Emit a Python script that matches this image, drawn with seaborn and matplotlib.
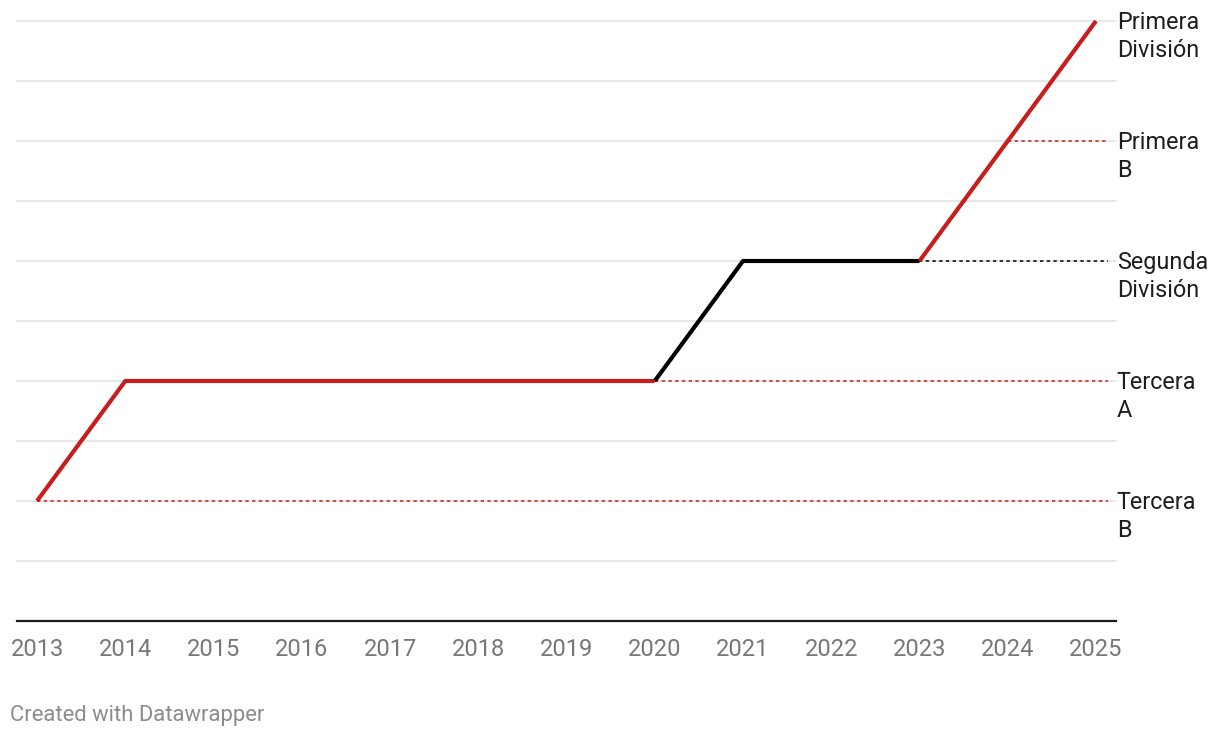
import numpy as np
import pandas as pd
import matplotlib
matplotlib.use("Agg")
import matplotlib.pyplot as plt
import seaborn as sns

# --- data -----------------------------------------------------------------
years = [2013, 2014, 2015, 2016, 2017, 2018, 2019, 2020, 2021, 2022, 2023, 2024, 2025]
levels = [1, 2, 2, 2, 2, 2, 2, 2, 3, 3, 3, 4, 5]
# colour segments: (first year, last year, colour key)
segments = [(2013, 2020, "red"), (2020, 2023, "black"), (2023, 2025, "red")]
# division labels at each level
division_names = ["Tercera\nB", "Tercera\nA", "Segunda\nDivisión", "Primera\nB", "Primera\nDivisión"]
division_levels = [1, 2, 3, 4, 5]
# dotted reference lines: (level, start year, colour key)
ref_lines = [(1, 2013, "red"), (2, 2020, "red"), (3, 2023, "black"), (4, 2024, "red")]

RED = "#c71e1d"
BLACK = "#000000"
COLOURS = {"red": RED, "black": BLACK}

sns.set_style("white")
plt.rcParams["font.family"] = ["Roboto", "DejaVu Sans"]

df = pd.DataFrame({"year": years, "level": levels})

fig = plt.figure(figsize=(12.2, 7.38), dpi=100)
ax = fig.add_axes([17 / 1220, 117 / 738, 1099 / 1220, 600 / 738])

x_lo, x_hi = 2012.773, 2025.227
ax.set_xlim(x_lo, x_hi)
ax.set_ylim(0, 5)

# gridlines
for g in np.arange(0.5, 5.01, 0.5):
    ax.axhline(g, color="#e3e3e3", lw=1.2, zorder=0, clip_on=False)

# dotted reference lines (stop a little before the right edge)
for lvl, start, ck in ref_lines:
    ax.hlines(lvl, start, x_hi - 0.09, colors=COLOURS[ck], linestyles=(0, (2.2, 2.2)),
              lw=1.1, zorder=1)

# main line, one seaborn call per colour segment
for a, b, ck in segments:
    sub = df[(df["year"] >= a) & (df["year"] <= b)]
    sns.lineplot(data=sub, x="year", y="level", ax=ax, color=COLOURS[ck],
                 lw=3, zorder=3, clip_on=False, solid_capstyle="butt")

# division labels on the right
for name, lvl in zip(division_names, division_levels):
    first, second = name.split("\n")
    for i, line in enumerate([first, second]):
        ax.annotate(line, xy=(1.0, lvl), xycoords=ax.get_yaxis_transform(),
                    xytext=(0.5, -1.3 - i * 20.2), textcoords="offset points",
                    ha="left", va="center", fontsize=16.8, color="#1d1d1d",
                    annotation_clip=False)

ax.set_xticks(years)
ax.set_xticklabels([str(y) for y in years])
ax.tick_params(axis="x", length=0, pad=12.5, labelsize=17, labelcolor="#777777")
ax.set_yticks([])
ax.set_xlabel("")
ax.set_ylabel("")
for s in ["top", "right", "left"]:
    ax.spines[s].set_visible(False)
ax.spines["bottom"].set_color("#1d1d1d")
ax.spines["bottom"].set_linewidth(1.6)
ax.set_facecolor("none")

fig.text(10 / 1220, 1 - 715 / 738, "Created with Datawrapper", ha="left", va="center",
         fontsize=15.8, color="#8c8c8c")

fig.savefig("out.png", dpi=100, facecolor="white")
